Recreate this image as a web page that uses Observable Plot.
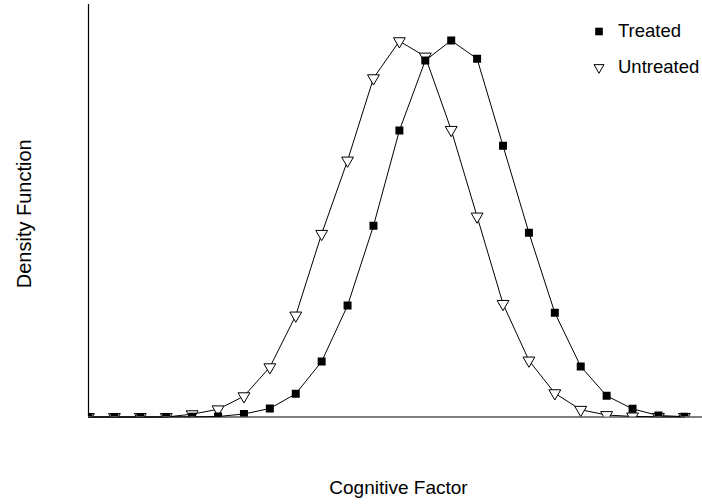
<!DOCTYPE html>
<html>
<head>
<meta charset="utf-8">
<script src="https://cdn.jsdelivr.net/npm/d3@7"></script>
<script src="https://cdn.jsdelivr.net/npm/@observablehq/plot@0.6"></script>
<style>
  html, body { margin: 0; padding: 0; background: #fff; }
  #chart svg { display: block; }
</style>
</head>
<body>
<div id="chart"></div>
<script>
// Grid positions along the cognitive factor axis
const factor = [0, 1, 2, 3, 4, 5, 6, 7, 8, 9, 10, 11, 12, 13, 14, 15, 16, 17, 18, 19, 20, 21, 22, 23];

// Estimated density at each grid position
const treated = [0.0000, 0.0000, 0.0000, 0.0001, 0.0002, 0.0005, 0.0032, 0.0091, 0.0247, 0.0592,
                 0.1189, 0.2039, 0.3056, 0.3803, 0.4016, 0.3821, 0.2893, 0.1965, 0.1111, 0.0539,
                 0.0226, 0.0087, 0.0016, 0.0004];
const untreated = [0.0000, 0.0000, 0.0000, 0.0000, 0.0030, 0.0082, 0.0222, 0.0531, 0.1083, 0.1954,
                   0.2736, 0.3614, 0.4009, 0.3845, 0.3063, 0.2139, 0.1207, 0.0603, 0.0254, 0.0077,
                   0.0021, 0.0006, 0.0002, 0.0001];

const seriesNames = ["Treated", "Untreated"];
const xTitle = "Cognitive Factor";
const yTitle = "Density Function";

const rows = factor.map((f, i) => ({factor: f, treated: treated[i], untreated: untreated[i]}));

const font = "'Liberation Sans', Arial, Helvetica, sans-serif";

const chart = Plot.plot({
  width: 702,
  height: 504,
  marginLeft: 88,
  marginRight: 0,
  marginTop: 4,
  marginBottom: 87.5,
  style: {fontFamily: font, background: "#fff"},
  x: {domain: [0, 23.7], axis: null},
  y: {domain: [0, 0.44], axis: null},
  marks: [
    // axis lines
    Plot.ruleY([0], {stroke: "#000", strokeWidth: 1.2}),
    Plot.ruleX([0], {stroke: "#000", strokeWidth: 1.2}),
    // connecting lines
    Plot.line(rows, {x: "factor", y: "untreated", stroke: "#000", strokeWidth: 1}),
    Plot.line(rows, {x: "factor", y: "treated", stroke: "#000", strokeWidth: 1}),
    // markers
    Plot.dot(rows, {x: "factor", y: "untreated", symbol: "triangle", rotate: 180, r: 4.4,
                    fill: "#fff", stroke: "#000", strokeWidth: 1, clip: true}),
    Plot.dot(rows, {x: "factor", y: "treated", symbol: "square", r: 4.5,
                    fill: "#000", stroke: "none", clip: true}),
    // legend
    Plot.dot([seriesNames[0]], {frameAnchor: "top-right", dx: -103.5, dy: 27, symbol: "square", r: 4.3, fill: "#000"}),
    Plot.dot([seriesNames[1]], {frameAnchor: "top-right", dx: -103.5, dy: 63, symbol: "triangle", rotate: 180, r: 3.7,
                                fill: "#fff", stroke: "#000", strokeWidth: 1}),
    Plot.text([seriesNames[0]], {frameAnchor: "top-right", dx: -84.5, dy: 27, text: d => d,
                                 textAnchor: "start", lineAnchor: "middle", fontSize: 18.5, fill: "#000"}),
    Plot.text([seriesNames[1]], {frameAnchor: "top-right", dx: -84.5, dy: 63, text: d => d,
                                 textAnchor: "start", lineAnchor: "middle", fontSize: 18.5, fill: "#000"}),
    // axis titles
    Plot.text([xTitle], {frameAnchor: "bottom", dx: 3, dy: 71, text: d => d, lineAnchor: "middle",
                         textAnchor: "middle", fontSize: 19, fill: "#000"}),
    Plot.text([yTitle], {frameAnchor: "left", dx: -64, dy: 3, rotate: -90, text: d => d, lineAnchor: "middle",
                         textAnchor: "middle", fontSize: 20, fill: "#000"})
  ]
});

document.getElementById("chart").appendChild(chart);
</script>
</body>
</html>
